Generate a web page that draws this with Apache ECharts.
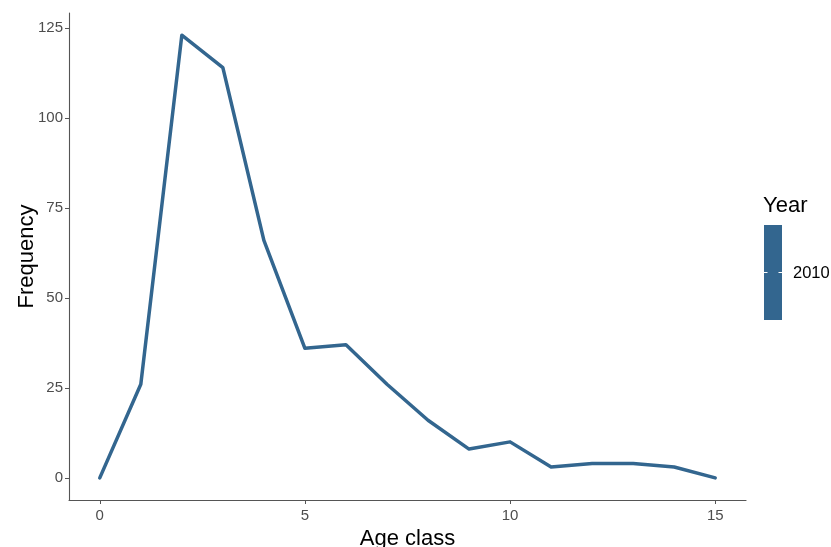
<!DOCTYPE html>
<html>
<head>
<meta charset="utf-8">
<script src="https://cdn.jsdelivr.net/npm/echarts@6/dist/echarts.min.js"></script>
<style>html,body{margin:0;padding:0;background:#fff;overflow:hidden}#c{width:831px;height:547px}</style>
</head>
<body>
<div id="c"></div>
<script>
const ageClass = [0,1,2,3,4,5,6,7,8,9,10,11,12,13,14,15];
const frequency2010 = [0,26,123,114,66,36,37,26,16,8,10,3,4,4,3,0];
const xTicks = [0,5,10,15];
const yTicks = [0,25,50,75,100,125];
const legendYear = '2010';

const lineColor = '#33668F';
const chart = echarts.init(document.getElementById('c'), null, {renderer:'canvas'});
const font = 'Liberation Sans, Arial, sans-serif';
chart.setOption({
  animation:false,
  grid:{left:69, top:13, width:677, height:487, containLabel:false, outerBoundsMode:'none'},
  xAxis:{
    type:'value', min:-0.75, max:15.75,
    name:'Age class', nameLocation:'middle', nameGap:28, nameMoveOverlap:false,
    nameTextStyle:{fontFamily:font, fontSize:22, color:'#000'},
    axisLine:{show:true, onZero:false, lineStyle:{color:'#555', width:1.1}},
    axisTick:{show:true, length:4, customValues:xTicks, lineStyle:{color:'#555'}},
    axisLabel:{customValues:xTicks, fontFamily:font, fontSize:15, color:'#4D4D4D', margin:8},
    splitLine:{show:false}
  },
  yAxis:{
    type:'value', min:-6.15, max:129.15,
    name:'Frequency', nameLocation:'middle', nameGap:31, nameRotate:90, nameMoveOverlap:false,
    nameTextStyle:{fontFamily:font, fontSize:22, color:'#000'},
    axisLine:{show:true, onZero:false, lineStyle:{color:'#555', width:1.1}},
    axisTick:{show:true, length:4, customValues:yTicks, lineStyle:{color:'#555'}},
    axisLabel:{customValues:yTicks, fontFamily:font, fontSize:15, color:'#4D4D4D', margin:6},
    splitLine:{show:false}
  },
  series:[{
    type:'line', name:legendYear,
    data: ageClass.map((a,i)=>[a, frequency2010[i]]),
    showSymbol:false, symbol:'none',
    lineStyle:{color:lineColor, width:3.5, cap:'round', join:'round'}
  }],
  graphic:[
    {type:'text', left:763, top:195, style:{text:'Year', font:'22px '+font, fill:'#000'}},
    {type:'rect', shape:{x:764, y:225, width:18, height:95}, style:{fill:lineColor}},
    {type:'line', shape:{x1:764, y1:272.5, x2:767.5, y2:272.5}, style:{stroke:'#fff', lineWidth:1}},
    {type:'line', shape:{x1:778.5, y1:272.5, x2:782, y2:272.5}, style:{stroke:'#fff', lineWidth:1}},
    {type:'text', left:793, top:265, style:{text:legendYear, font:'16.5px '+font, fill:'#000'}}
  ]
});
</script>
</body>
</html>
